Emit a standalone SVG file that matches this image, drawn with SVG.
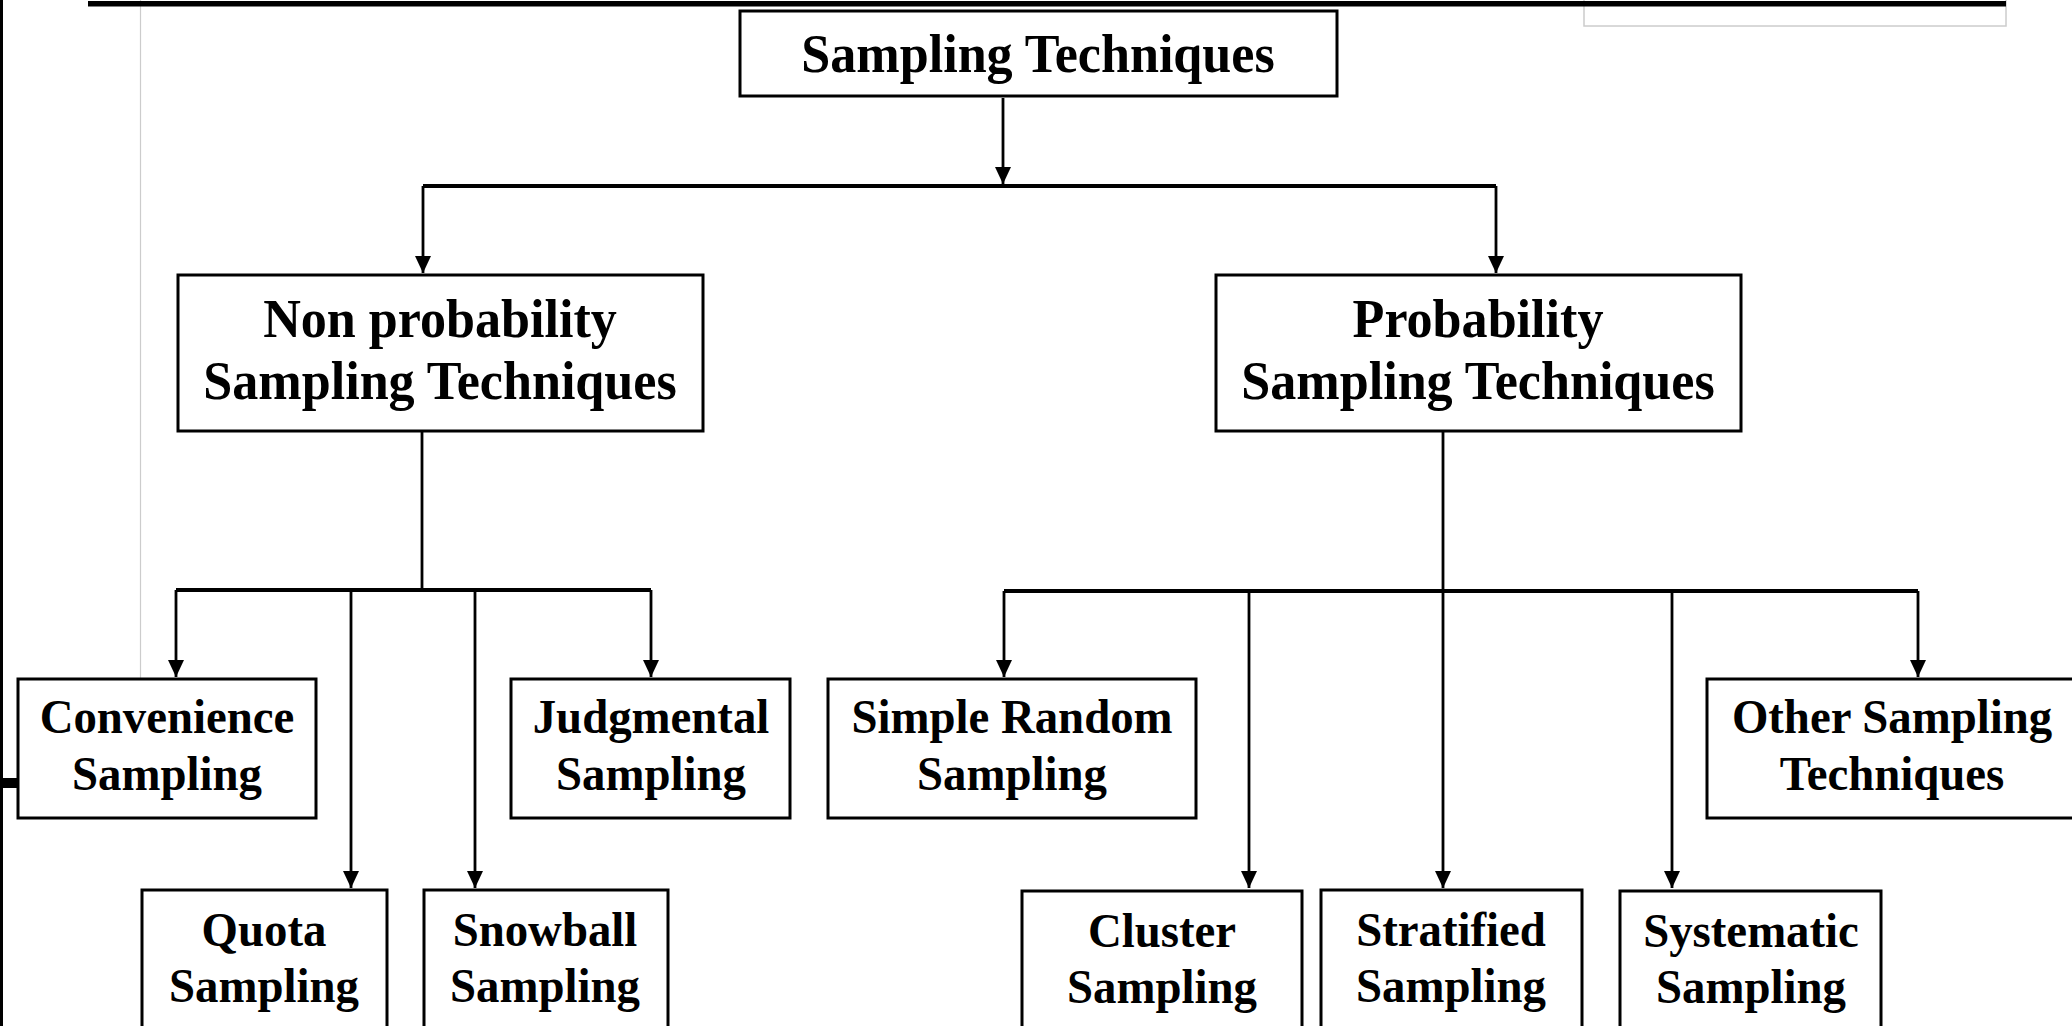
<svg xmlns="http://www.w3.org/2000/svg" width="2072" height="1026" viewBox="0 0 2072 1026">
  <style>
    .box { fill: #ffffff; stroke: #000000; stroke-width: 3; }
    .t1 { font-family: "Liberation Serif", "Times New Roman", serif; font-weight: bold; font-size: 54px; fill: #000; text-anchor: middle; }
    .t2 { font-family: "Liberation Serif", "Times New Roman", serif; font-weight: bold; font-size: 48px; fill: #000; text-anchor: middle; }
    .wire { fill: none; stroke: #000; stroke-width: 2.8; }
    .bus { fill: none; stroke: #000; stroke-width: 3.8; }
  </style>
  <defs>
    <marker id="arr" viewBox="0 0 17 16" refX="17" refY="8" markerWidth="17" markerHeight="16" markerUnits="userSpaceOnUse" orient="auto">
      <path d="M0,0 L17,8 L0,16 z" fill="#000"/>
    </marker>
  </defs>
  <rect width="2072" height="1026" fill="#ffffff"/>

  <!-- page decorations -->
  <g id="page-marks">
    <line x1="140.5" y1="0" x2="140.5" y2="679" stroke="#cccccc" stroke-width="1.2"/>
    <rect x="1584" y="-2" width="422" height="28" fill="none" stroke="#cccccc" stroke-width="1.5"/>
    <rect x="88" y="1" width="1918" height="5.5" fill="#000"/>
    <rect x="0" y="0" width="3" height="1026" fill="#000"/>
    <rect x="0" y="778" width="18" height="10" fill="#000"/>
  </g>

  <!-- connectors -->
  <g id="connectors">
    <line class="wire" x1="1003" y1="98" x2="1003" y2="184" marker-end="url(#arr)"/>
    <line class="bus" x1="423" y1="186" x2="1496" y2="186"/>
    <line class="wire" x1="423" y1="186" x2="423" y2="273" marker-end="url(#arr)"/>
    <line class="wire" x1="1496" y1="186" x2="1496" y2="273" marker-end="url(#arr)"/>

    <line class="wire" x1="422" y1="432" x2="422" y2="590"/>
    <line class="bus" x1="176" y1="590" x2="651" y2="590"/>
    <line class="wire" x1="176" y1="590" x2="176" y2="677" marker-end="url(#arr)"/>
    <line class="wire" x1="351" y1="590" x2="351" y2="888" marker-end="url(#arr)"/>
    <line class="wire" x1="475" y1="590" x2="475" y2="888" marker-end="url(#arr)"/>
    <line class="wire" x1="651" y1="590" x2="651" y2="677" marker-end="url(#arr)"/>

    <line class="wire" x1="1443" y1="432" x2="1443" y2="590"/>
    <line class="bus" x1="1004" y1="591" x2="1918" y2="591"/>
    <line class="wire" x1="1004" y1="591" x2="1004" y2="677" marker-end="url(#arr)"/>
    <line class="wire" x1="1249" y1="591" x2="1249" y2="888" marker-end="url(#arr)"/>
    <line class="wire" x1="1443" y1="591" x2="1443" y2="888" marker-end="url(#arr)"/>
    <line class="wire" x1="1672" y1="591" x2="1672" y2="888" marker-end="url(#arr)"/>
    <line class="wire" x1="1918" y1="591" x2="1918" y2="677" marker-end="url(#arr)"/>
  </g>

  <g id="sampling-techniques">
    <rect class="box" x="740" y="11" width="597" height="85"/>
    <text class="t1" transform="translate(1038 72) scale(0.965 1)">Sampling Techniques</text>
  </g>

  <g id="non-probability">
    <rect class="box" x="178" y="275" width="525" height="156"/>
    <text class="t1" transform="translate(440 337) scale(0.965 1)">Non probability</text>
    <text class="t1" transform="translate(440 399) scale(0.965 1)">Sampling Techniques</text>
  </g>

  <g id="probability">
    <rect class="box" x="1216" y="275" width="525" height="156"/>
    <text class="t1" transform="translate(1478 337) scale(0.965 1)">Probability</text>
    <text class="t1" transform="translate(1478 399) scale(0.965 1)">Sampling Techniques</text>
  </g>

  <g id="convenience">
    <rect class="box" x="18" y="679" width="298" height="139"/>
    <text class="t2" transform="translate(167 733) scale(0.975 1)">Convenience</text>
    <text class="t2" transform="translate(167 790) scale(0.975 1)">Sampling</text>
  </g>

  <g id="judgmental">
    <rect class="box" x="511" y="679" width="279" height="139"/>
    <text class="t2" transform="translate(651 733) scale(0.975 1)">Judgmental</text>
    <text class="t2" transform="translate(651 790) scale(0.975 1)">Sampling</text>
  </g>

  <g id="quota">
    <rect class="box" x="142" y="890" width="245" height="160"/>
    <text class="t2" transform="translate(264 946) scale(0.975 1)">Quota</text>
    <text class="t2" transform="translate(264 1002) scale(0.975 1)">Sampling</text>
  </g>

  <g id="snowball">
    <rect class="box" x="424" y="890" width="244" height="160"/>
    <text class="t2" transform="translate(545 946) scale(0.975 1)">Snowball</text>
    <text class="t2" transform="translate(545 1002) scale(0.975 1)">Sampling</text>
  </g>

  <g id="simple-random">
    <rect class="box" x="828" y="679" width="368" height="139"/>
    <text class="t2" transform="translate(1012 733) scale(0.975 1)">Simple Random</text>
    <text class="t2" transform="translate(1012 790) scale(0.975 1)">Sampling</text>
  </g>

  <g id="other">
    <rect class="box" x="1707" y="679" width="372" height="139"/>
    <text class="t2" transform="translate(1892 733) scale(0.975 1)">Other Sampling</text>
    <text class="t2" transform="translate(1892 790) scale(0.975 1)">Techniques</text>
  </g>

  <g id="cluster">
    <rect class="box" x="1022" y="891" width="280" height="160"/>
    <text class="t2" transform="translate(1162 947) scale(0.975 1)">Cluster</text>
    <text class="t2" transform="translate(1162 1003) scale(0.975 1)">Sampling</text>
  </g>

  <g id="stratified">
    <rect class="box" x="1321" y="890" width="261" height="160"/>
    <text class="t2" transform="translate(1451 946) scale(0.975 1)">Stratified</text>
    <text class="t2" transform="translate(1451 1002) scale(0.975 1)">Sampling</text>
  </g>

  <g id="systematic">
    <rect class="box" x="1620" y="891" width="261" height="160"/>
    <text class="t2" transform="translate(1751 947) scale(0.975 1)">Systematic</text>
    <text class="t2" transform="translate(1751 1003) scale(0.975 1)">Sampling</text>
  </g>
</svg>
